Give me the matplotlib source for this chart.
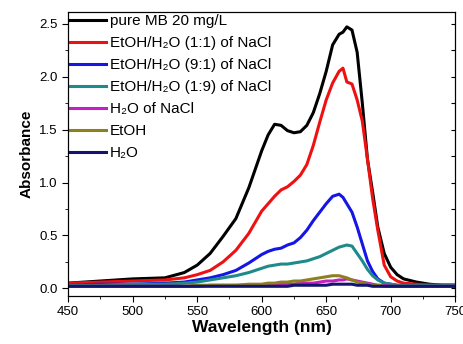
import numpy as np
import matplotlib.pyplot as plt
from matplotlib.ticker import MultipleLocator

plt.rcParams['font.family'] = ['Liberation Sans', 'DejaVu Sans']

wavelength = [450, 475, 500, 525, 540, 550, 560, 570, 580, 590, 600, 605, 610, 615,
              620, 625, 630, 635, 640, 645, 650, 655, 660, 663, 666, 670, 674, 678,
              682, 686, 690, 695, 700, 705, 710, 720, 730, 740, 750]

pure_mb = [0.05, 0.07, 0.09, 0.10, 0.15, 0.22, 0.33, 0.49, 0.66, 0.95, 1.30, 1.45, 1.55, 1.54,
           1.49, 1.47, 1.48, 1.54, 1.66, 1.84, 2.05, 2.30, 2.40, 2.42, 2.47, 2.44, 2.23, 1.75,
           1.22, 0.91, 0.58, 0.33, 0.20, 0.13, 0.09, 0.06, 0.04, 0.03, 0.03]
etoh_h2o_11 = [0.05, 0.06, 0.07, 0.08, 0.10, 0.13, 0.17, 0.25, 0.36, 0.52, 0.73, 0.80, 0.87, 0.93,
               0.96, 1.01, 1.07, 1.17, 1.35, 1.57, 1.78, 1.94, 2.05, 2.08, 1.95, 1.93, 1.78, 1.58,
               1.22, 0.85, 0.55, 0.22, 0.11, 0.07, 0.05, 0.04, 0.03, 0.03, 0.03]
etoh_h2o_91 = [0.03, 0.04, 0.04, 0.05, 0.06, 0.08, 0.10, 0.13, 0.17, 0.24, 0.32, 0.35, 0.37, 0.38,
               0.41, 0.43, 0.48, 0.55, 0.64, 0.72, 0.80, 0.87, 0.89, 0.86, 0.80, 0.72, 0.58, 0.42,
               0.26, 0.16, 0.09, 0.05, 0.04, 0.03, 0.03, 0.03, 0.03, 0.03, 0.03]
etoh_h2o_19 = [0.03, 0.03, 0.04, 0.04, 0.05, 0.06, 0.08, 0.10, 0.12, 0.15, 0.19, 0.21, 0.22, 0.23,
               0.23, 0.24, 0.25, 0.26, 0.28, 0.30, 0.33, 0.36, 0.39, 0.40, 0.41, 0.40, 0.33, 0.26,
               0.18, 0.12, 0.08, 0.05, 0.04, 0.03, 0.03, 0.03, 0.03, 0.03, 0.03]
h2o_nacl = [0.02, 0.02, 0.02, 0.02, 0.02, 0.02, 0.03, 0.03, 0.03, 0.03, 0.03, 0.03, 0.04, 0.04,
            0.04, 0.04, 0.05, 0.05, 0.05, 0.06, 0.07, 0.07, 0.08, 0.08, 0.09, 0.08, 0.07, 0.06,
            0.05, 0.04, 0.03, 0.03, 0.02, 0.02, 0.02, 0.02, 0.02, 0.02, 0.02]
etoh = [0.02, 0.02, 0.02, 0.02, 0.02, 0.03, 0.03, 0.03, 0.03, 0.04, 0.04, 0.05, 0.05, 0.06,
        0.06, 0.07, 0.07, 0.08, 0.09, 0.10, 0.11, 0.12, 0.12, 0.11, 0.10, 0.08, 0.06, 0.05,
        0.04, 0.03, 0.03, 0.02, 0.02, 0.02, 0.02, 0.02, 0.02, 0.02, 0.02]
h2o = [0.02, 0.02, 0.02, 0.02, 0.02, 0.02, 0.02, 0.02, 0.02, 0.02, 0.02, 0.02, 0.02, 0.02,
       0.02, 0.03, 0.03, 0.03, 0.03, 0.03, 0.03, 0.04, 0.04, 0.04, 0.04, 0.04, 0.03, 0.03,
       0.03, 0.02, 0.02, 0.02, 0.02, 0.02, 0.02, 0.02, 0.02, 0.02, 0.02]

labels = ["pure MB 20 mg/L", "EtOH/H₂O (1:1) of NaCl", "EtOH/H₂O (9:1) of NaCl",
          "EtOH/H₂O (1:9) of NaCl", "H₂O of NaCl", "EtOH", "H₂O"]
colors = ["#000000", "#ee1111", "#1515e6", "#1f8a8a", "#c31fc3", "#8c8020", "#141470"]
series = [pure_mb, etoh_h2o_11, etoh_h2o_91, etoh_h2o_19, h2o_nacl, etoh, h2o]

fig = plt.figure(figsize=(4.64, 3.44), dpi=100)
ax = fig.add_axes([0.147, 0.140, 0.834, 0.825])

for y, c, lab in zip(series, colors, labels):
    ax.plot(wavelength, y, color=c, lw=2.2, label=lab)

ax.set_xlim(450, 750)
ax.set_ylim(-0.07, 2.61)
ax.xaxis.set_major_locator(MultipleLocator(50))
ax.xaxis.set_minor_locator(MultipleLocator(25))
ax.yaxis.set_major_locator(MultipleLocator(0.5))
ax.yaxis.set_minor_locator(MultipleLocator(0.25))
ax.yaxis.set_major_formatter(plt.FormatStrFormatter('%.1f'))
ax.tick_params(which='both', direction='out', top=False, right=False, labelsize=9.5)
ax.tick_params(which='major', length=4)
ax.tick_params(which='minor', length=2.5)

ax2 = ax.twinx()
ax2.set_ylim(ax.get_ylim())
ax2.yaxis.set_major_locator(MultipleLocator(0.25))
ax2.tick_params(direction='in', length=3, labelright=False)

ax.set_xlabel("Wavelength (nm)", fontsize=12.5, fontweight='bold', labelpad=1)
ax.set_ylabel("Absorbance", fontsize=11, fontweight='bold', labelpad=4)

ax.legend(loc='upper left', frameon=False, fontsize=11, handlelength=2.3,
          handletextpad=0.3, labelspacing=0.52, borderaxespad=0.1, borderpad=0.05)

fig.savefig("out.png", dpi=100)
